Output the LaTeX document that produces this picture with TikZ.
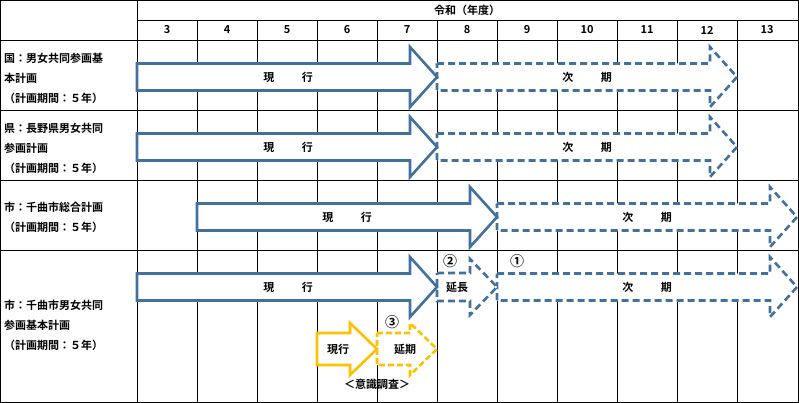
\documentclass[tikz,border=0pt]{standalone}
\usepackage{fontspec}
\setmainfont{Noto Sans CJK JP}[BoldFont={Noto Sans CJK JP Bold}]
\definecolor{planblue}{HTML}{41719C}
\definecolor{planyellow}{HTML}{FFC000}
% block arrow: #1 style, #2 x start, #3 x tip, #4 y centre, #5 body half, #6 head half, #7 head length
\newcommand{\planarrow}[7]{%
  \draw[#1] (#2,#4-#5) -- (#3-#7,#4-#5) -- (#3-#7,#4-#6) -- (#3,#4)
    -- (#3-#7,#4+#6) -- (#3-#7,#4+#5) -- (#2,#4+#5) -- cycle;}

\begin{document}
\begin{tikzpicture}[x=1pt,y=-1pt,font=\bfseries\fontsize{11}{13}\selectfont]
    \tikzstyle{grid line}=[black, line width=0.8pt]
    \tikzstyle{now arrow}=[planblue, line width=2.6pt, fill=white]
    \tikzstyle{next arrow}=[planblue, line width=2.6pt, dash pattern=on 7pt off 4pt, fill=white]
    \tikzstyle{survey now}=[planyellow, line width=2.6pt, fill=white]
    \tikzstyle{survey next}=[planyellow, line width=2.6pt, dash pattern=on 6pt off 3pt, fill=white]
    \tikzstyle{rowlabel}=[anchor=west, inner sep=0pt]
    \tikzstyle{stepmark}=[font=\bfseries\fontsize{14}{14}\selectfont, inner sep=0pt]
    \useasboundingbox (0,0) rectangle (799,403);

    % Draw the table
    \draw[grid line] (0.5,0.5) rectangle (798.5,402);
    \draw[grid line] (137,0.5) -- (137,402);
    \draw[grid line] (137,20) -- (798.5,20);
    \foreach \y in {40,110,180,250}
        \draw[grid line] (0.5,\y) -- (798.5,\y);
    \foreach \i in {1,...,10}
        \draw[grid line] (137+60*\i,20) -- (137+60*\i,402);

    % Header
    \node (era) at (467,10) {令和（年度）};
    \foreach \yr [count=\i from 0] in {3,...,13}
        \node (Y-\yr) at (167+60*\i,30) {\yr};

    % Row labels
    \node[rowlabel] (L1a) at (4,58) {国：男女共同参画基};
    \node[rowlabel] (L1b) at (4,78) {本計画};
    \node[rowlabel] (L1c) at (4,98) {（計画期間：５年）};
    \node[rowlabel] (L2a) at (4,128) {県：長野県男女共同};
    \node[rowlabel] (L2b) at (4,148) {参画計画};
    \node[rowlabel] (L2c) at (4,168) {（計画期間：５年）};
    \node[rowlabel] (L3a) at (4,207) {市：千曲市総合計画};
    \node[rowlabel] (L3b) at (4,227) {（計画期間：５年）};
    \node[rowlabel] (L4a) at (4,305) {市：千曲市男女共同};
    \node[rowlabel] (L4b) at (4,325) {参画基本計画};
    \node[rowlabel] (L4c) at (4,345) {（計画期間：５年）};

    % Arrows of the national and prefecture plans
    \foreach \y in {77,147} {
        \planarrow{next arrow}{437}{737}{\y}{13.5}{30}{27}
        \planarrow{now arrow}{137}{437}{\y}{13.5}{30}{27}
        \node (now-\y) at (288,\y) {現\hspace{2.5em}行};
        \node (next-\y) at (587,\y) {次\hspace{2.5em}期};
    }

    % Arrows of the city plan
    \planarrow{next arrow}{497}{797}{217}{13.5}{30}{27}
    \planarrow{now arrow}{197}{497}{217}{13.5}{30}{27}
    \node (now-217) at (347,217) {現\hspace{2.5em}行};
    \node (next-217) at (647,217) {次\hspace{2.5em}期};

    % Arrows of the city gender equality plan
    \planarrow{next arrow}{497}{797}{287}{13.5}{30}{27}
    \planarrow{next arrow}{437}{497}{287}{14}{28}{27}
    \planarrow{now arrow}{137}{437}{287}{13.5}{30}{27}
    \node (now-287) at (288,287) {現\hspace{2.5em}行};
    \node (ext-287) at (457,287) {延長};
    \node (next-287) at (647,287) {次\hspace{2.5em}期};
    \node[stepmark] (mark2) at (450,261) {②};
    \node[stepmark] (mark1) at (517,261) {①};

    % Survey
    \planarrow{survey next}{377}{437}{349}{16}{26}{27}
    \planarrow{survey now}{317}{377}{349}{16}{26}{27}
    \node (survey-now) at (338,349) {現行};
    \node (survey-next) at (405,349) {延期};
    \node[stepmark] (mark3) at (392,322) {③};
    \node (survey) at (377,384) {＜意識調査＞};
\end{tikzpicture}
\end{document}
